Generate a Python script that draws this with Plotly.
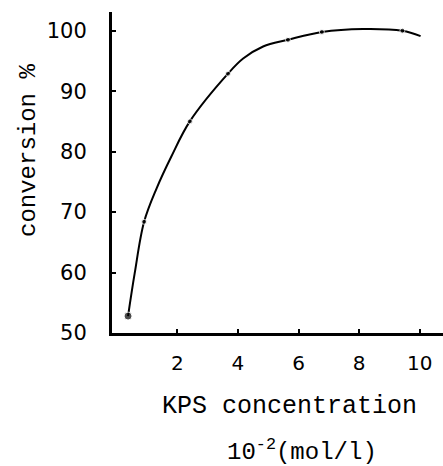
import plotly.graph_objects as go

# Measured conversion vs. KPS (initiator) concentration
kps_conc = [0.37, 0.90, 2.41, 3.67, 5.65, 6.77, 9.43]         # 10^-2 mol/l
conversion = [52.8, 68.4, 85.0, 92.9, 98.5, 99.8, 100.0]      # %

# Hand-drawn smoothing curve through the measurements
fit_conc = [0.37, 0.59, 0.90, 1.31, 1.80, 2.41, 3.67, 4.17, 4.83, 5.65, 6.77, 8.13, 9.43, 10.03]
fit_conv = [52.8, 59.9, 68.4, 73.9, 79.2, 85.0, 92.9, 95.4, 97.4, 98.5, 99.8, 100.3, 100.0, 99.1]

x_ticks = [2, 4, 6, 8, 10]
x_tick_text = ["2", "4", "6", "8", "10"]
y_ticks = [50, 60, 70, 80, 90, 100]
y_tick_text = ["50", "60", "70", "80", "90", "100"]

W, H = 443, 466
L, R, T, B = 112, 0, 12, 133
plot_w, plot_h = W - L - R, H - T - B


def px_x(px):
    return (px - L) / plot_w


def px_y(py):
    return (H - B - py) / plot_h


fig = go.Figure()
fig.add_trace(go.Scatter(
    x=fit_conc, y=fit_conv, mode="lines",
    line=dict(color="black", width=2, shape="spline", smoothing=1.0),
    hoverinfo="skip", showlegend=False,
))
fig.add_trace(go.Scatter(
    x=kps_conc, y=conversion, mode="markers",
    marker=dict(color="black", size=[8, 5, 5, 5, 5, 5, 5]),
    showlegend=False,
))

mono = "Liberation Mono"
sans = "DejaVu Sans"

fig.update_layout(
    width=W, height=H,
    margin=dict(l=L, r=R, t=T, b=B),
    paper_bgcolor="white", plot_bgcolor="white",
    xaxis=dict(
        range=[-0.16, 10.77], showgrid=False, zeroline=False,
        showline=True, linecolor="black", linewidth=3,
        ticks="inside", ticklen=4, tickwidth=2, tickcolor="black",
        tickvals=x_ticks, ticktext=x_tick_text,
        tickfont=dict(family=sans, size=20, color="black"),
        ticklabelstandoff=10,
    ),
    yaxis=dict(
        range=[50, 103.1], showgrid=False, zeroline=False,
        showline=True, linecolor="black", linewidth=3,
        ticks="inside", ticklen=4, tickwidth=2, tickcolor="black",
        tickvals=y_ticks, ticktext=y_tick_text,
        tickfont=dict(family=sans, size=21, color="black"),
        ticklabelstandoff=18,
    ),
    annotations=[
        dict(text="conversion %", textangle=-90, showarrow=False,
             xref="paper", yref="paper", x=px_x(28), y=px_y(151),
             xanchor="center", yanchor="middle",
             font=dict(family=mono, size=24, color="black")),
        dict(text="KPS concentration", showarrow=False,
             xref="paper", yref="paper", x=px_x(289), y=px_y(406),
             xanchor="center", yanchor="middle",
             font=dict(family=mono, size=25, color="black")),
        dict(text="10<sup>-2</sup>(mol/l)", showarrow=False,
             xref="paper", yref="paper", x=px_x(302), y=px_y(450),
             xanchor="center", yanchor="middle",
             font=dict(family=mono, size=24, color="black")),
    ],
)

fig.write_html("out.html")
